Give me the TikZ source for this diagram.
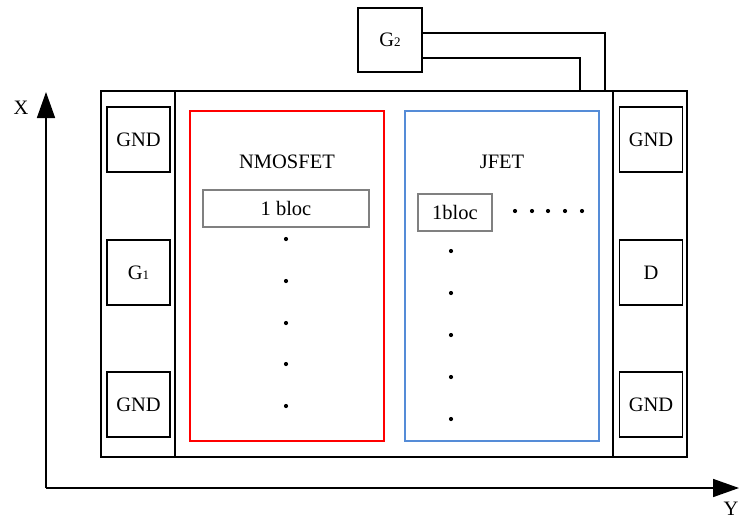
\documentclass[tikz,border=0pt]{standalone}
\usepackage{fontspec}
\setmainfont{Liberation Serif}
\usetikzlibrary{arrows.meta, positioning}

\begin{document}
\begin{tikzpicture} [
	x=1pt, y=-1pt, % one unit is one pixel of the drawing
	line width=1.6pt,
	every node/.style={font=\fontsize{20.5}{24}\selectfont},
	pad/.style={draw, minimum width=63pt, minimum height=65pt}, % the contact pads
	zone/.style={draw, minimum width=194pt, minimum height=330pt}, % the two device areas
	bloc/.style={draw=gray, minimum height=37pt, inner sep=0pt},
	axis/.style={-{Triangle[length=26pt, width=18pt]}},
	]
	\useasboundingbox (0,0) rectangle (739,520);

	% chip outline in three columns
	\node[draw, minimum width=74pt, minimum height=366pt] (leftcol) at (138,274) {};
	\node[draw, minimum width=438pt, minimum height=366pt] (chip) at (394,274) {};
	\node[draw, minimum width=74pt, minimum height=366pt] (rightcol) at (650,274) {};

	\node[pad] (gndlt) at (138.5,139.5) {GND};
	\node[pad] (g1) at (138.5,272.5) {G{\fontsize{13}{13}\selectfont 1}};
	\node[pad] (gndlb) at (138.5,404.5) {GND};
	\node[pad] (gndrt) at (651,139.5) {GND};
	\node[pad] (d) at (651,272.5) {D};
	\node[pad] (gndrb) at (651,404.5) {GND};

	\node[zone, draw=red] (nmos) at (287,276) {};
	\node[zone, draw={rgb,255:red,85;green,140;blue,215}] (jfet) at (502,276) {};
	\node (nmoslabel) at (287,162) {NMOSFET};
	\node (jfetlabel) at (502,162) {JFET};
	\node[bloc, minimum width=166pt] (bloc1) at (286,208.5) {1 bloc};
	\node[bloc, minimum width=74pt] (bloc2) at (455,212.5) {1bloc};

	\foreach \y in {239,281,323,364,406}
		\fill (286,\y) circle (2.1);
	\foreach \y in {251,293,335,377,419}
		\fill (451,\y) circle (2.1);
	\foreach \x in {515,532,548,565,582}
		\fill (\x,211) circle (2.1);

	% second gate above the chip
	\node[pad, minimum width=64pt, minimum height=64pt] (g2) at (390,40) {G{\fontsize{13}{13}\selectfont 2}};
	\draw ([yshift=7pt]g2.east) -| ([xshift=211pt]chip.north);
	\draw ([yshift=-18pt]g2.east) -| ([xshift=186pt]chip.north);

	% axes
	\coordinate (origin) at (46,488);
	\coordinate (xtip) at (46,92);
	\coordinate (ytip) at (739,488);
	\draw[axis] (origin) -- (xtip);
	\draw[axis] (origin) -- (ytip);
	\node (xlabel) at (21,108) {X};
	\node (ylabel) at (731,509) {Y};
\end{tikzpicture}
\end{document}
